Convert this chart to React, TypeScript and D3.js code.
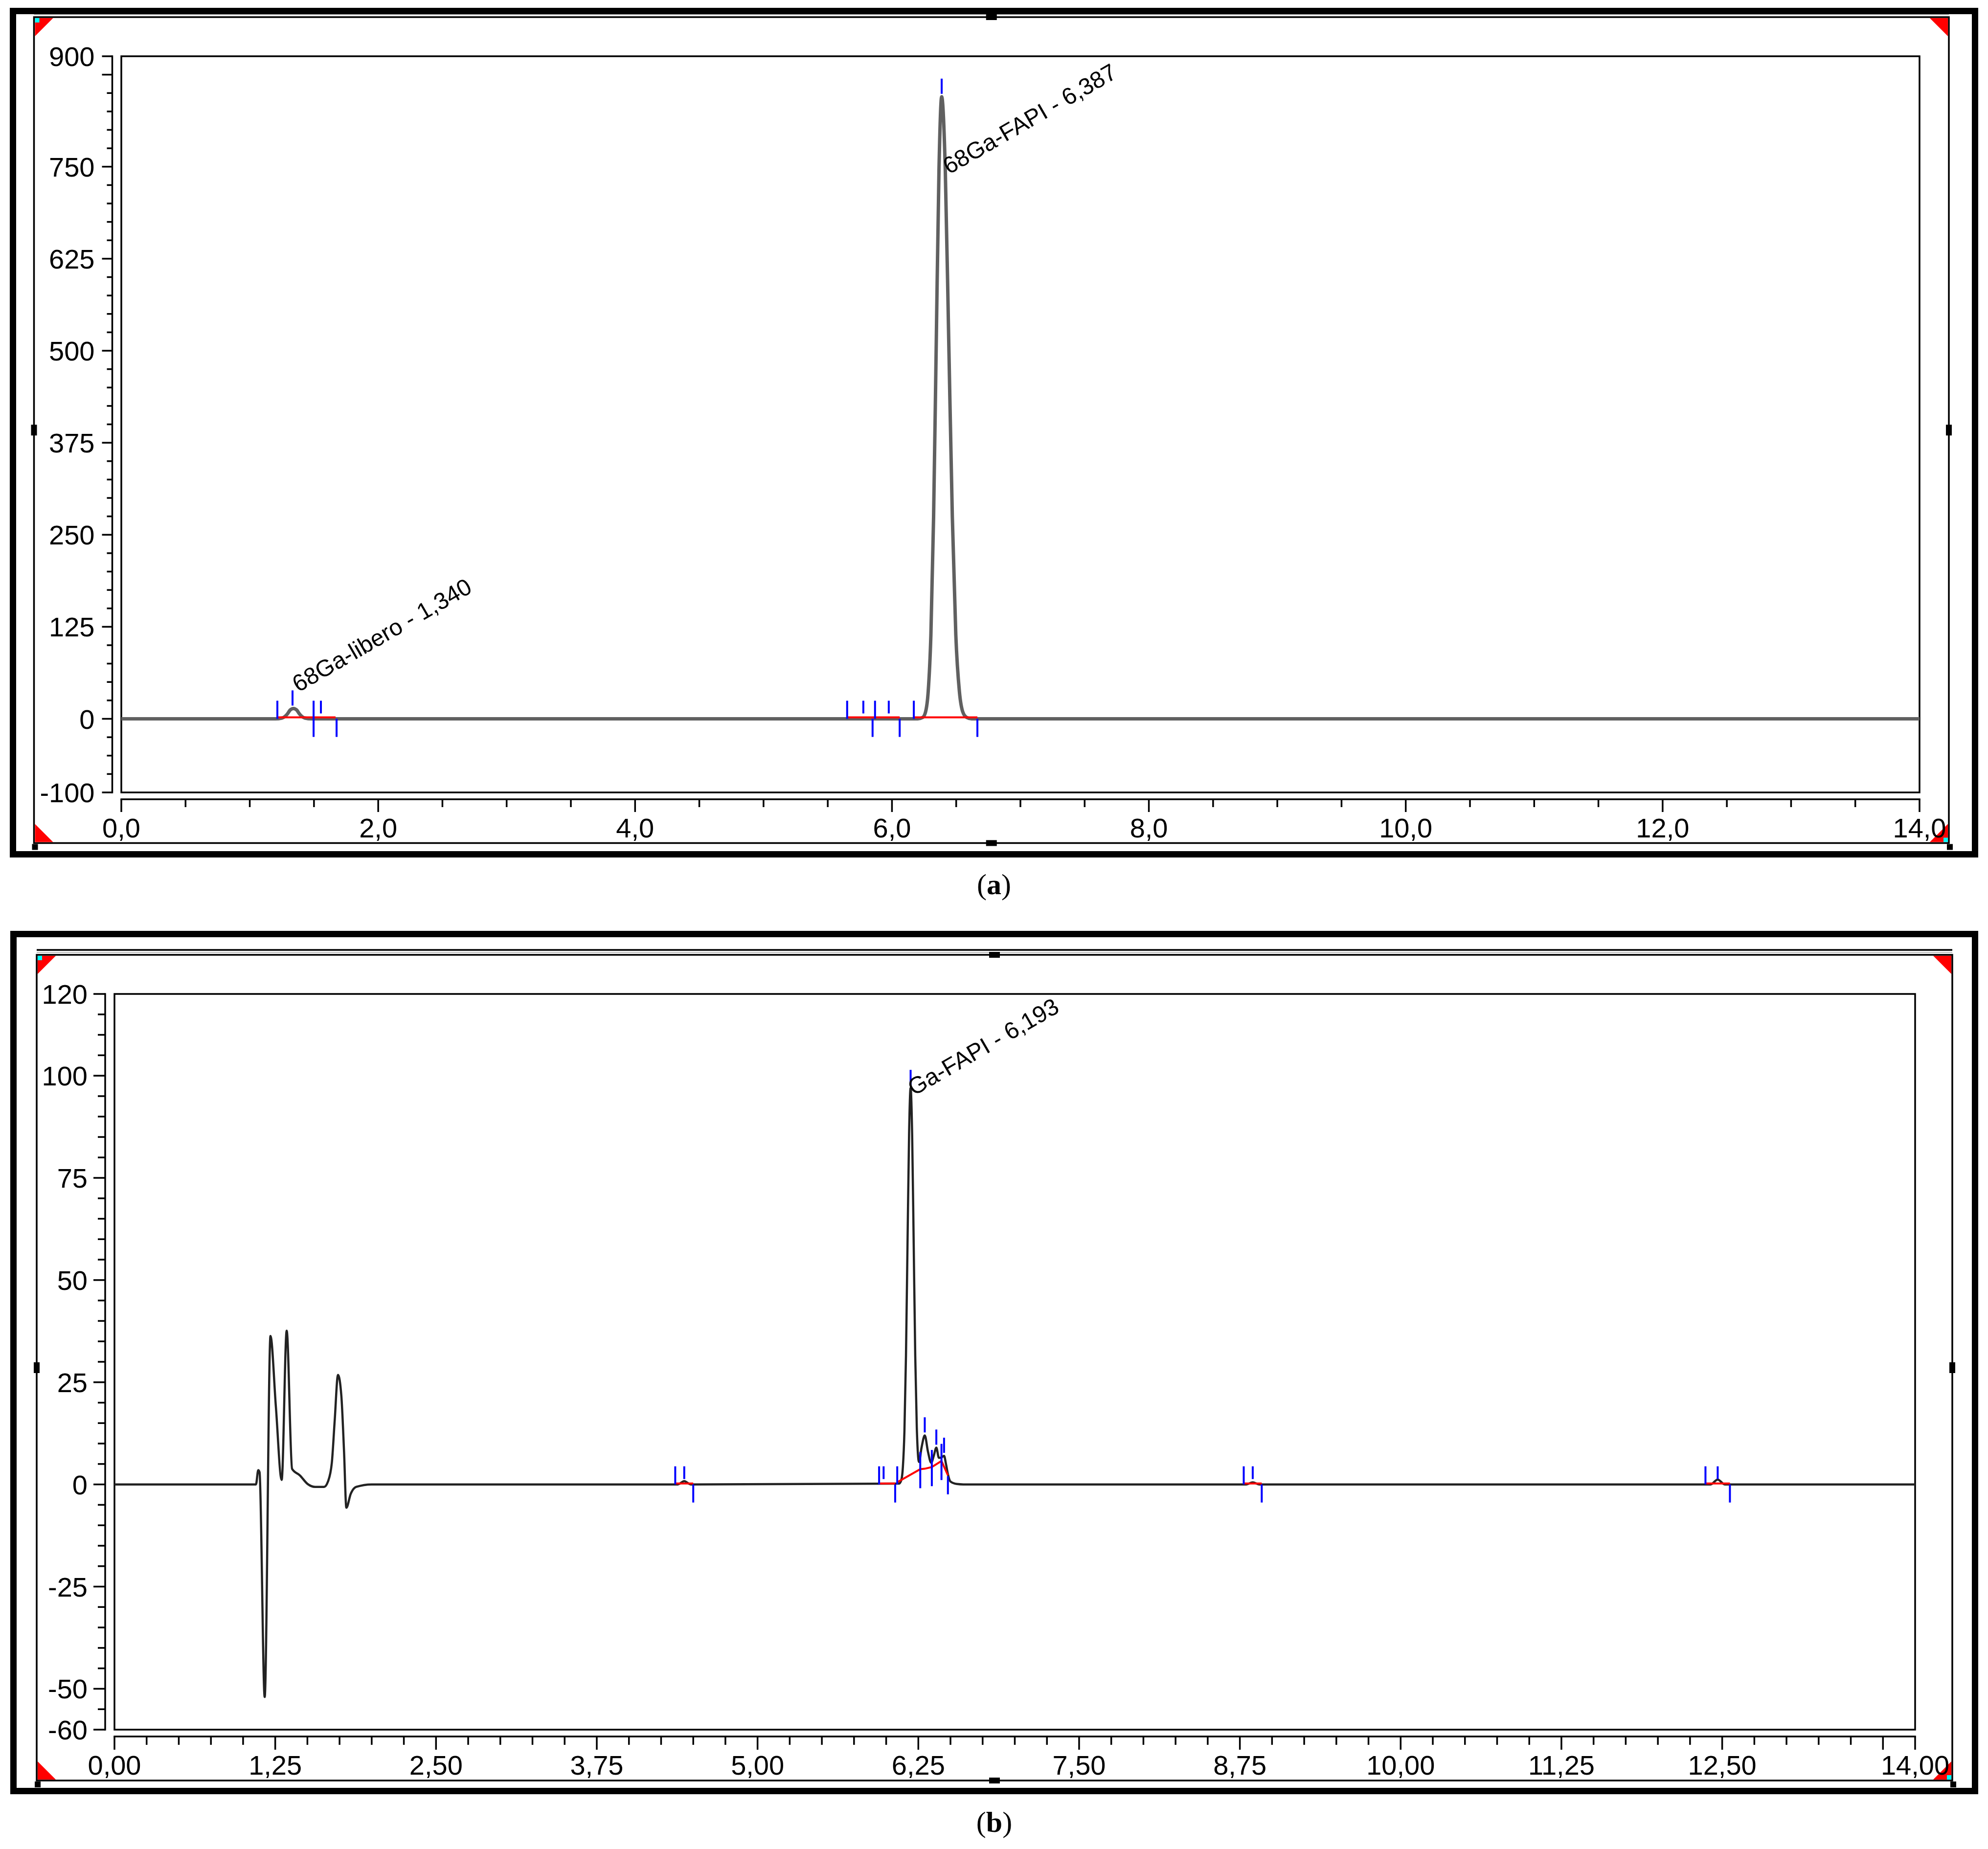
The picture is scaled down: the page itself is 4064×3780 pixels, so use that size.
import React from 'react';
import * as d3 from 'd3';

type P = [number, number];

// ---------------- Panel (a) data ----------------
const traceA: P[] = [
  [0, 0], [1.2, 0], [1.25, 1], [1.29, 6], [1.315, 12], [1.34, 14], [1.365, 12], [1.39, 6], [1.43, 1], [1.48, 0],
  [6.2, 0], [6.24, 2], [6.261, 9], [6.282, 37], [6.303, 114], [6.324, 274], [6.345, 513], [6.366, 746], [6.387, 845],
  [6.415, 746], [6.442, 513], [6.47, 274], [6.497, 114], [6.525, 37], [6.552, 9], [6.58, 2], [6.62, 0], [14, 0],
];
const redA: P[][] = [
  [[1.215, 0], [1.668, 0]],
  [[5.651, 0], [6.06, 0]],
  [[6.17, 0], [6.665, 0]],
];
const markersA: [number, number, string][] = [
  [1.215, 0, 'U'], [1.333, 14, 'A'], [1.497, 0, 'B'], [1.554, 0, 'S'], [1.676, 0, 'D'],
  [5.651, 0, 'U'], [5.777, 0, 'S'], [5.849, 0, 'D'], [5.868, 0, 'U'], [5.975, 0, 'S'],
  [6.06, 0, 'D'], [6.17, 0, 'U'], [6.387, 845, 'A'], [6.665, 0, 'D'],
];
const labelsA: [string, number, number][] = [
  ['68Ga-libero - 1,340', 1.378, 35.6],
  ['68Ga-FAPI - 6,387', 6.443, 739],
];
const xMajorA = [0, 2, 4, 6, 8, 10, 12, 14];
const xLabelsA = [0, 2, 4, 6, 8, 10, 12, 14];
const yMajorA = [900, 875, 750, 625, 500, 375, 250, 125, 0, -100];
const yLabelsA = [900, 750, 625, 500, 375, 250, 125, 0, -100];

// ---------------- Panel (b) data ----------------
const traceB: P[] = [
  [0, 0], [1.1, 0], [1.118, 3.5], [1.128, 3.0], [1.168, -52], [1.213, 36.3], [1.255, 19], [1.3, 1.1],
  [1.339, 37.6], [1.381, 3.8], [1.442, 2.2], [1.502, 0.1], [1.56, -0.6], [1.63, -0.6], [1.66, 0.7],
  [1.69, 5.3], [1.712, 15.5], [1.738, 26.8], [1.764, 21.7], [1.785, 8], [1.803, -5.7], [1.837, -2.3],
  [1.88, -0.6], [2.0, 0], [4.38, 0], [4.43, 0.8], [4.48, 0],
  [6.1, 0.2], [6.118, 1.1], [6.13, 4.3], [6.142, 13.1], [6.154, 31.5], [6.166, 58.9], [6.178, 85.6], [6.19, 97],
  [6.202, 85.6], [6.214, 58.9], [6.226, 31.5], [6.238, 14], [6.255, 5.5], [6.275, 9], [6.3, 12], [6.325, 8],
  [6.35, 5.3], [6.37, 7], [6.39, 9], [6.41, 6.5], [6.43, 6.6], [6.45, 7], [6.465, 5], [6.48, 2.5], [6.5, 0.7],
  [6.55, 0.1], [6.6, 0], [8.8, 0], [8.85, 0.5], [8.9, 0], [12.41, 0], [12.465, 1.2], [12.52, 0], [14, 0],
];
const redB: P[][] = [
  [[4.36, 0], [4.5, 0]],
  [[5.945, 0], [6.07, 0]],
  [[6.086, 0.3], [6.265, 3.5], [6.3, 3.6], [6.355, 4.0], [6.43, 5.5], [6.48, 2.0]],
  [[8.78, 0], [8.92, 0]],
  [[12.37, 0], [12.56, 0]],
];
const markersB: [number, number, string][] = [
  [4.36, 0, 'U'], [4.43, 0, 'S'], [4.5, 0, 'D'],
  [5.945, 0, 'U'], [5.98, 0, 'S'], [6.07, 0, 'D'], [6.086, 0, 'U'],
  [6.19, 97, 'A'], [6.265, 3.5, 'B'], [6.3, 12, 'A'], [6.355, 4.0, 'B'], [6.39, 9, 'A'],
  [6.43, 5.5, 'B'], [6.45, 7, 'A'], [6.48, 2, 'D'],
  [8.78, 0, 'U'], [8.85, 0, 'S'], [8.92, 0, 'D'],
  [12.37, 0, 'U'], [12.465, 0, 'S'], [12.56, 0, 'D'],
];
const labelsB: [string, number, number][] = [
  ['Ga-FAPI - 6,193', 6.215, 95],
];
const xMajorB = [0, 1.25, 2.5, 3.75, 5, 6.25, 7.5, 8.75, 10, 11.25, 12.5, 13.75, 14];
const xLabelsB = [0, 1.25, 2.5, 3.75, 5, 6.25, 7.5, 8.75, 10, 11.25, 12.5, 14];
const yMajorB = [120, 100, 75, 50, 25, 0, -25, -50, -60];
const yLabelsB = [120, 100, 75, 50, 25, 0, -25, -50, -60];

const SANS = '"Liberation Sans", Arial, sans-serif';
const SERIF = '"Liberation Serif", "Times New Roman", serif';

type Layout = {
  outer: { x0: number; y0: number; x1: number; y1: number };
  frame: { x0: number; y0: number; x1: number; y1: number };
  plot: { x0: number; y0: number; x1: number; y1: number };
  yAxisX: number;
  xAxisY: number;
  yTickMaj: number;
  yTickMin: number;
  xTickMaj: number;
  xTickMin: number;
  captionY: number;
  extraTop?: number;
};

const layoutA: Layout = {
  outer: { x0: 20, y0: 16, x1: 4044, y1: 1753 },
  frame: { x0: 69.5, y0: 35, x1: 3984, y1: 1723.5 },
  plot: { x0: 248, y0: 115, x1: 3924, y1: 1620 },
  yAxisX: 229.5,
  xAxisY: 1634,
  yTickMaj: 21,
  yTickMin: 11,
  xTickMaj: 26,
  xTickMin: 16,
  captionY: 1828,
};
const layoutB: Layout = {
  outer: { x0: 21, y0: 1903, x1: 4044, y1: 3668 },
  frame: { x0: 75, y0: 1952, x1: 3991, y1: 3640 },
  plot: { x0: 234, y0: 2032, x1: 3915, y1: 3536 },
  yAxisX: 215,
  xAxisY: 3550,
  yTickMaj: 24,
  yTickMin: 15,
  xTickMaj: 27,
  xTickMin: 17,
  captionY: 3745,
  extraTop: 1942,
};

type PanelProps = {
  L: Layout;
  xDomain: [number, number];
  yDomain: [number, number];
  trace: P[];
  red: P[][];
  markers: [number, number, string][];
  labels: [string, number, number][];
  xMajor: number[];
  xLabels: number[];
  xMinorStep: number;
  xDigits: number;
  yMajor: number[];
  yLabels: number[];
  yMinorStep: number;
  traceColor: string;
  traceWidth: number;
  redOffset: number;
  caption: string;
};

function Panel(p: PanelProps) {
  const { L } = p;
  const x = d3.scaleLinear().domain(p.xDomain).range([L.plot.x0, L.plot.x1]);
  const y = d3.scaleLinear().domain(p.yDomain).range([L.plot.y1, L.plot.y0]);
  const line = d3.line<P>().x((d) => x(d[0])).y((d) => y(d[1])).curve(d3.curveMonotoneX);
  const redLine = d3.line<P>().x((d) => x(d[0])).y((d) => y(d[1]) + p.redOffset);

  const near = (arr: number[], v: number) => arr.some((a) => Math.abs(a - v) < 1e-6);
  const xMinor = d3.range(p.xDomain[0], p.xDomain[1] + 1e-9, p.xMinorStep).filter((v) => !near(p.xMajor, v));
  const yMinor = d3.range(p.yDomain[0], p.yDomain[1] + 1e-9, p.yMinorStep).filter((v) => !near(p.yMajor, v));
  const fmtX = (v: number) => v.toFixed(p.xDigits).replace('.', ',');

  const mk = (kind: string): [number, number] => {
    switch (kind) {
      case 'U': return [-37, 0];
      case 'S': return [-37, -11];
      case 'D': return [0, 37];
      case 'B': return [-37, 37];
      default: return [-37, -6];
    }
  };

  const o = L.outer;
  const f = L.frame;
  const tri = 37;
  const midX = (f.x0 + f.x1) / 2;
  const midY = (f.y0 + f.y1) / 2;

  return (
    <g>
      {/* outer thick frame */}
      <rect x={o.x0 + 6.5} y={o.y0 + 6.5} width={o.x1 - o.x0 - 13} height={o.y1 - o.y0 - 13} fill="none" stroke="#000" strokeWidth={13} />
      {/* inner window frame */}
      <rect x={f.x0} y={f.y0} width={f.x1 - f.x0} height={f.y1 - f.y0} fill="none" stroke="#000" strokeWidth={3.5} />
      <line x1={f.x0} x2={f.x1} y1={f.y0 - 5} y2={f.y0 - 5} stroke="#bbb" strokeWidth={2} />
      {L.extraTop !== undefined && (
        <line x1={f.x0} x2={f.x1} y1={L.extraTop} y2={L.extraTop} stroke="#000" strokeWidth={3.5} />
      )}
      {/* corner triangles */}
      <path d={`M${f.x0 + 2},${f.y0 + 2}h${tri}l${-tri},${tri}z`} fill="#ff0000" />
      <path d={`M${f.x1 - 2},${f.y0 + 2}h${-tri}l${tri},${tri}z`} fill="#ff0000" />
      <path d={`M${f.x0 + 2},${f.y1 - 2}h${tri}l${-tri},${-tri}z`} fill="#ff0000" />
      <path d={`M${f.x1 - 2},${f.y1 - 2}h${-tri}l${tri},${-tri}z`} fill="#ff0000" />
      <rect x={f.x0 + 2} y={f.y0 + 2} width={9} height={9} fill="#00ffff" />
      <rect x={f.x1 - 11} y={f.y1 - 11} width={9} height={9} fill="#00ffff" />
      {/* handles */}
      <rect x={midX - 11} y={f.y0 - 6} width={22} height={12} fill="#000" />
      <rect x={midX - 11} y={f.y1 - 6} width={22} height={12} fill="#000" />
      <rect x={f.x0 - 6} y={midY - 11} width={12} height={22} fill="#000" />
      <rect x={f.x1 - 6} y={midY - 11} width={12} height={22} fill="#000" />
      <rect x={f.x0 - 4} y={f.y1 + 2} width={12} height={12} fill="#000" />
      <rect x={f.x1 - 4} y={f.y1 + 2} width={12} height={12} fill="#000" />

      {/* plot box */}
      <rect x={L.plot.x0} y={L.plot.y0} width={L.plot.x1 - L.plot.x0} height={L.plot.y1 - L.plot.y0} fill="none" stroke="#000" strokeWidth={3.5} />

      {/* y axis */}
      <line x1={L.yAxisX} x2={L.yAxisX} y1={L.plot.y0 - 1.75} y2={L.plot.y1 + 1.75} stroke="#000" strokeWidth={3.5} />
      {p.yMajor.map((v) => (
        <line key={'ym' + v} x1={L.yAxisX - L.yTickMaj} x2={L.yAxisX} y1={y(v)} y2={y(v)} stroke="#000" strokeWidth={3.5} />
      ))}
      {yMinor.map((v) => (
        <line key={'yn' + v} x1={L.yAxisX - L.yTickMin} x2={L.yAxisX} y1={y(v)} y2={y(v)} stroke="#000" strokeWidth={3.5} />
      ))}
      {p.yLabels.map((v) => (
        <text key={'yl' + v} x={L.yAxisX - 36} y={y(v) + 20} textAnchor="end" fontFamily={SANS} fontSize={56} fill="#000">
          {String(v)}
        </text>
      ))}

      {/* x axis */}
      <line x1={L.plot.x0 - 1.75} x2={L.plot.x1 + 1.75} y1={L.xAxisY} y2={L.xAxisY} stroke="#000" strokeWidth={3.5} />
      {p.xMajor.map((v) => (
        <line key={'xm' + v} x1={x(v)} x2={x(v)} y1={L.xAxisY} y2={L.xAxisY + L.xTickMaj} stroke="#000" strokeWidth={3.5} />
      ))}
      {xMinor.map((v) => (
        <line key={'xn' + v} x1={x(v)} x2={x(v)} y1={L.xAxisY} y2={L.xAxisY + L.xTickMin} stroke="#000" strokeWidth={3.5} />
      ))}
      {p.xLabels.map((v) => (
        <text key={'xl' + v} x={x(v)} y={L.xAxisY + 78} textAnchor="middle" fontFamily={SANS} fontSize={56} fill="#000">
          {fmtX(v)}
        </text>
      ))}

      {/* trace */}
      <path d={line(p.trace) || ''} fill="none" stroke={p.traceColor} strokeWidth={p.traceWidth} strokeLinejoin="round" />
      {/* integration baselines */}
      {p.red.map((seg, i) => (
        <path key={'r' + i} d={redLine(seg) || ''} fill="none" stroke="#ff0000" strokeWidth={4} />
      ))}
      {/* peak markers */}
      {p.markers.map(([t, v, k], i) => {
        const [a, b] = mk(k);
        return <line key={'mk' + i} x1={x(t)} x2={x(t)} y1={y(v) + a} y2={y(v) + b} stroke="#0000ff" strokeWidth={4} />;
      })}
      {/* peak labels */}
      {p.labels.map(([s, t, v], i) => (
        <text key={'lb' + i} transform={`translate(${x(t)},${y(v)}) rotate(-30)`} fontFamily={SANS} fontSize={48} fill="#000">
          {s}
        </text>
      ))}

      {/* caption */}
      <text x={(o.x0 + o.x1) / 2} y={L.captionY} textAnchor="middle" fontFamily={SERIF} fontSize={60} fill="#000">
        (<tspan fontWeight="bold">{p.caption}</tspan>)
      </text>
    </g>
  );
}

export default function App() {
  return (
    <svg
      width={4064}
      height={3780}
      viewBox="0 0 4064 3780"
      style={{ position: 'absolute', left: 0, top: 0, display: 'block', background: '#fff' }}
    >
      <rect x={0} y={0} width={4064} height={3780} fill="#fff" />
      <Panel
        L={layoutA}
        xDomain={[0, 14]}
        yDomain={[-100, 900]}
        trace={traceA}
        red={redA}
        markers={markersA}
        labels={labelsA}
        xMajor={xMajorA}
        xLabels={xLabelsA}
        xMinorStep={0.5}
        xDigits={1}
        yMajor={yMajorA}
        yLabels={yLabelsA}
        yMinorStep={25}
        traceColor="#606060"
        traceWidth={7}
        redOffset={-3}
        caption="a"
      />
      <Panel
        L={layoutB}
        xDomain={[0, 14]}
        yDomain={[-60, 120]}
        trace={traceB}
        red={redB}
        markers={markersB}
        labels={labelsB}
        xMajor={xMajorB}
        xLabels={xLabelsB}
        xMinorStep={0.25}
        xDigits={2}
        yMajor={yMajorB}
        yLabels={yLabelsB}
        yMinorStep={5}
        traceColor="#222"
        traceWidth={4.5}
        redOffset={-2}
        caption="b"
      />
    </svg>
  );
}
